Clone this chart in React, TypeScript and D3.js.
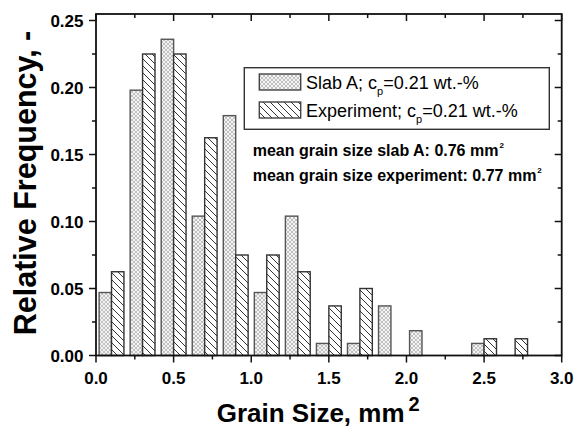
import React, { useEffect, useRef } from 'react';
import * as d3 from 'd3';

// bin centers of the grain size histogram (mm^2), bin width 0.2
const binCenters = [0.1, 0.3, 0.5, 0.7, 0.9, 1.1, 1.3, 1.5, 1.7, 1.9, 2.1, 2.3, 2.5, 2.7];
const slabValues = [0.047, 0.198, 0.236, 0.104, 0.179, 0.047, 0.104, 0.009, 0.009, 0.037, 0.0185, 0, 0.009, 0];
const experimentValues = [0.0625, 0.225, 0.225, 0.1625, 0.075, 0.075, 0.0625, 0.037, 0.05, 0, 0, 0, 0.0125, 0.0125];
const xTicks = [0, 0.5, 1.0, 1.5, 2.0, 2.5, 3.0];
const yTicks = [0, 0.05, 0.1, 0.15, 0.2, 0.25];
const legendLabels = ['Slab A; c', 'Experiment; c'];
const notes = ['mean grain size slab A: 0.76 mm', 'mean grain size experiment: 0.77 mm'];

const W = 581;
const H = 428;
const FONT = '"Liberation Sans", Arial, sans-serif';

const App = () => {
  const svgRef = useRef(null);

  useEffect(() => {
    const svg = d3.select(svgRef.current);
    svg.selectAll('*').remove();

    const left = 96;
    const right = 561.7;
    const top = 14;
    const bottom = 355.5;

    const x = d3.scaleLinear().domain([0, 3]).range([left, right]);
    const y = d3.scaleLinear().domain([0, 0.25]).range([bottom, 20.5]);

    // hatch patterns
    const defs = svg.append('defs');
    const cross = defs
      .append('pattern')
      .attr('id', 'cross')
      .attr('patternUnits', 'userSpaceOnUse')
      .attr('width', 4)
      .attr('height', 4);
    cross.append('rect').attr('width', 4).attr('height', 4).attr('fill', '#f4f4f4');
    cross
      .append('path')
      .attr('d', 'M0,0 L4,4 M4,0 L0,4')
      .attr('stroke', '#aaa')
      .attr('stroke-width', 0.7);

    const diag = defs
      .append('pattern')
      .attr('id', 'diag')
      .attr('patternUnits', 'userSpaceOnUse')
      .attr('width', 7)
      .attr('height', 7);
    diag.append('rect').attr('width', 7).attr('height', 7).attr('fill', '#fff');
    diag
      .append('path')
      .attr('d', 'M-1,-1 L8,8 M-1,6 L1,8 M6,-1 L8,1')
      .attr('stroke', '#333')
      .attr('stroke-width', 1);

    const barW = x(0.08) - x(0);

    // bars
    const g = svg.append('g');
    binCenters.forEach((c, i) => {
      const s = slabValues[i];
      const e = experimentValues[i];
      if (s > 0) {
        g.append('rect')
          .attr('x', x(c) - barW)
          .attr('y', y(s))
          .attr('width', barW)
          .attr('height', y(0) - y(s))
          .attr('fill', 'url(#cross)')
          .attr('stroke', '#555')
          .attr('stroke-width', 1.4);
      }
      if (e > 0) {
        g.append('rect')
          .attr('x', x(c))
          .attr('y', y(e))
          .attr('width', barW)
          .attr('height', y(0) - y(e))
          .attr('fill', 'url(#diag)')
          .attr('stroke', '#333')
          .attr('stroke-width', 1.4);
      }
    });

    // frame
    svg.append('rect')
      .attr('x', left)
      .attr('y', top)
      .attr('width', right - left)
      .attr('height', bottom - top)
      .attr('fill', 'none')
      .attr('stroke', '#111')
      .attr('stroke-width', 1.8);

    // ticks: bottom/left outward, top/right inward
    const ticks = svg.append('g').attr('stroke', '#111').attr('stroke-width', 1.5);
    const xMinor = d3.range(0, 3.01, 0.25);
    xMinor.forEach((v) => {
      const major = Math.abs(v * 2 - Math.round(v * 2)) < 1e-6;
      const len = major ? 7 : 4;
      ticks.append('line').attr('x1', x(v)).attr('x2', x(v)).attr('y1', bottom).attr('y2', bottom + len);
      ticks.append('line').attr('x1', x(v)).attr('x2', x(v)).attr('y1', top).attr('y2', top + len);
    });
    const yMinor = d3.range(0, 0.2501, 0.025);
    yMinor.forEach((v, i) => {
      const len = i % 2 === 0 ? 7 : 4;
      ticks.append('line').attr('x1', left).attr('x2', left - len).attr('y1', y(v)).attr('y2', y(v));
      ticks.append('line').attr('x1', right).attr('x2', right - len).attr('y1', y(v)).attr('y2', y(v));
    });

    // tick labels
    svg.append('g')
      .selectAll('text')
      .data(xTicks)
      .enter()
      .append('text')
      .attr('x', (d) => x(d))
      .attr('y', 383.5)
      .attr('text-anchor', 'middle')
      .attr('font-family', FONT)
      .attr('font-weight', 'bold')
      .attr('font-size', 17)
      .text((d) => d.toFixed(1));

    svg.append('g')
      .selectAll('text')
      .data(yTicks)
      .enter()
      .append('text')
      .attr('x', 83.5)
      .attr('y', (d) => y(d) + 6)
      .attr('text-anchor', 'end')
      .attr('font-family', FONT)
      .attr('font-weight', 'bold')
      .attr('font-size', 17)
      .text((d) => d.toFixed(2));

    // axis titles
    const xt = svg.append('text')
      .attr('x', 216.7)
      .attr('y', 422.3)
      .attr('font-family', FONT)
      .attr('font-weight', 'bold')
      .attr('font-size', 26);
    xt.append('tspan').text('Grain Size, mm');
    xt.append('tspan').attr('dx', 4).attr('dy', -11).attr('font-size', 20).text('2');

    svg.append('text')
      .attr('transform', `translate(36, 183) rotate(-90)`)
      .attr('text-anchor', 'middle')
      .attr('font-family', FONT)
      .attr('font-weight', 'bold')
      .attr('font-size', 30.5)
      .text('Relative Frequency, -');

    // legend
    const lg = svg.append('g');
    lg.append('rect')
      .attr('x', 244.3)
      .attr('y', 67.7)
      .attr('width', 305)
      .attr('height', 61.6)
      .attr('fill', '#fff')
      .attr('stroke', '#333')
      .attr('stroke-width', 1.4);
    const fills = ['url(#cross)', 'url(#diag)'];
    legendLabels.forEach((lab, i) => {
      const yy = 74 + i * 28;
      lg.append('rect')
        .attr('x', 259.3)
        .attr('y', yy)
        .attr('width', 41.4)
        .attr('height', 16)
        .attr('fill', fills[i])
        .attr('stroke', '#444')
        .attr('stroke-width', 1.4);
      const t = lg.append('text')
        .attr('x', 306)
        .attr('y', yy + 14.5)
        .attr('font-family', FONT)
        .attr('font-size', 18);
      t.append('tspan').text(lab);
      t.append('tspan').attr('dy', 6).attr('font-size', 11).text('p');
      t.append('tspan').attr('dy', -6).text('=0.21 wt.-%');
    });

    // annotations
    notes.forEach((n, i) => {
      const t = svg.append('text')
        .attr('x', 252.7)
        .attr('y', 155.7 + i * 25)
        .attr('font-family', FONT)
        .attr('font-weight', 'bold')
        .attr('font-size', 16);
      t.append('tspan').text(n);
      t.append('tspan').attr('dx', 1).attr('dy', -8).attr('font-size', 8).text('2');
    });
  }, []);

  return (
    <svg
      ref={svgRef}
      width={W}
      height={H}
      style={{ position: 'absolute', left: 0, top: 0, background: '#fff' }}
    ></svg>
  );
};

export default App;
